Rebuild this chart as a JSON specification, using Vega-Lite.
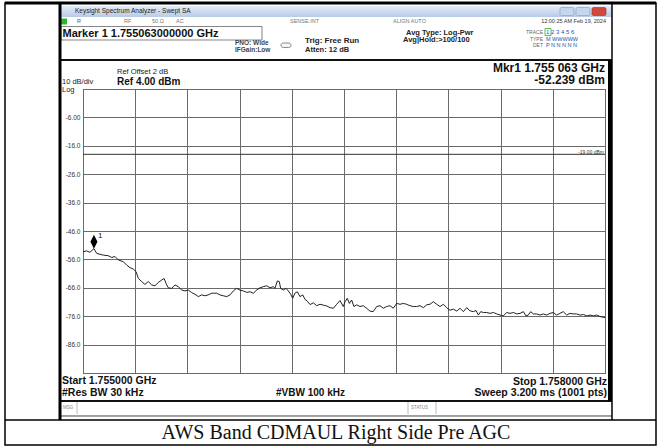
{
"$schema": "https://vega.github.io/schema/vega-lite/v6.json",
"width": 522, "height": 284,
"autosize": {"type": "none"},
"padding": {"left": 83, "top": 89, "right": 55, "bottom": 75},
"background": "white",
"config": {
  "view": {"stroke": "#222", "strokeWidth": 1},
  "font": "Liberation Sans",
  "axis": {"domain": false, "ticks": false, "gridColor": "#6a6a6a", "gridWidth": 1, "gridOpacity": 1, "labelColor": "#333", "labelFont": "Liberation Sans", "titleOpacity": 0, "labelOverlap": false, "labelFlush": false}
},
"datasets": {
  "one": [{"k": 1}],
  "trace": [
{"f":1755.000,"dbm":-53.3},{"f":1755.021,"dbm":-53.0},{"f":1755.040,"dbm":-53.5},{"f":1755.063,"dbm":-52.2},{"f":1755.079,"dbm":-53.9},{"f":1755.098,"dbm":-54.2},{"f":1755.117,"dbm":-54.5},{"f":1755.145,"dbm":-54.7},{"f":1755.165,"dbm":-55.3},{"f":1755.184,"dbm":-55.0},{"f":1755.203,"dbm":-56.2},{"f":1755.232,"dbm":-56.8},{"f":1755.251,"dbm":-58.0},{"f":1755.270,"dbm":-58.9},{"f":1755.289,"dbm":-59.4},{"f":1755.305,"dbm":-60.3},{"f":1755.318,"dbm":-62.7},{"f":1755.337,"dbm":-63.8},{"f":1755.356,"dbm":-64.8},{"f":1755.375,"dbm":-63.8},{"f":1755.395,"dbm":-65.0},{"f":1755.414,"dbm":-65.3},{"f":1755.433,"dbm":-64.1},{"f":1755.452,"dbm":-63.3},{"f":1755.466,"dbm":-62.7},{"f":1755.477,"dbm":-64.4},{"f":1755.490,"dbm":-66.0},{"f":1755.510,"dbm":-66.2},{"f":1755.529,"dbm":-65.0},{"f":1755.548,"dbm":-65.6},{"f":1755.567,"dbm":-66.8},{"f":1755.586,"dbm":-67.1},{"f":1755.605,"dbm":-66.8},{"f":1755.625,"dbm":-67.7},{"f":1755.644,"dbm":-68.3},{"f":1755.663,"dbm":-69.1},{"f":1755.682,"dbm":-68.5},{"f":1755.701,"dbm":-68.8},{"f":1755.720,"dbm":-68.5},{"f":1755.740,"dbm":-67.9},{"f":1755.749,"dbm":-67.9},{"f":1755.768,"dbm":-67.9},{"f":1755.787,"dbm":-68.5},{"f":1755.806,"dbm":-68.8},{"f":1755.826,"dbm":-69.1},{"f":1755.845,"dbm":-68.5},{"f":1755.864,"dbm":-67.1},{"f":1755.883,"dbm":-66.2},{"f":1755.902,"dbm":-66.8},{"f":1755.921,"dbm":-67.1},{"f":1755.941,"dbm":-67.6},{"f":1755.960,"dbm":-67.4},{"f":1755.979,"dbm":-67.9},{"f":1755.998,"dbm":-66.8},{"f":1756.017,"dbm":-66.0},{"f":1756.036,"dbm":-65.6},{"f":1756.056,"dbm":-65.3},{"f":1756.075,"dbm":-66.0},{"f":1756.094,"dbm":-65.6},{"f":1756.103,"dbm":-66.2},{"f":1756.117,"dbm":-63.6},{"f":1756.128,"dbm":-63.8},{"f":1756.136,"dbm":-66.2},{"f":1756.151,"dbm":-66.8},{"f":1756.167,"dbm":-66.2},{"f":1756.180,"dbm":-67.1},{"f":1756.194,"dbm":-68.3},{"f":1756.205,"dbm":-69.7},{"f":1756.218,"dbm":-67.9},{"f":1756.232,"dbm":-67.4},{"f":1756.247,"dbm":-69.1},{"f":1756.263,"dbm":-68.5},{"f":1756.276,"dbm":-70.1},{"f":1756.289,"dbm":-70.7},{"f":1756.305,"dbm":-71.9},{"f":1756.324,"dbm":-71.3},{"f":1756.343,"dbm":-72.3},{"f":1756.362,"dbm":-71.8},{"f":1756.381,"dbm":-72.1},{"f":1756.401,"dbm":-72.4},{"f":1756.420,"dbm":-73.0},{"f":1756.439,"dbm":-73.2},{"f":1756.458,"dbm":-71.8},{"f":1756.477,"dbm":-70.5},{"f":1756.496,"dbm":-72.6},{"f":1756.506,"dbm":-70.9},{"f":1756.519,"dbm":-69.7},{"f":1756.531,"dbm":-71.5},{"f":1756.544,"dbm":-70.3},{"f":1756.557,"dbm":-72.6},{"f":1756.573,"dbm":-72.0},{"f":1756.592,"dbm":-72.6},{"f":1756.611,"dbm":-72.3},{"f":1756.630,"dbm":-73.2},{"f":1756.649,"dbm":-74.2},{"f":1756.668,"dbm":-74.4},{"f":1756.688,"dbm":-72.6},{"f":1756.707,"dbm":-72.3},{"f":1756.726,"dbm":-73.2},{"f":1756.745,"dbm":-72.6},{"f":1756.764,"dbm":-72.3},{"f":1756.783,"dbm":-73.2},{"f":1756.803,"dbm":-71.5},{"f":1756.822,"dbm":-71.8},{"f":1756.841,"dbm":-71.5},{"f":1756.860,"dbm":-71.8},{"f":1756.879,"dbm":-72.3},{"f":1756.898,"dbm":-72.6},{"f":1756.917,"dbm":-72.6},{"f":1756.937,"dbm":-72.3},{"f":1756.956,"dbm":-73.0},{"f":1756.975,"dbm":-72.0},{"f":1756.994,"dbm":-71.8},{"f":1757.013,"dbm":-70.9},{"f":1757.033,"dbm":-71.8},{"f":1757.052,"dbm":-72.6},{"f":1757.071,"dbm":-71.8},{"f":1757.090,"dbm":-73.0},{"f":1757.109,"dbm":-73.9},{"f":1757.128,"dbm":-73.5},{"f":1757.148,"dbm":-74.2},{"f":1757.167,"dbm":-73.2},{"f":1757.186,"dbm":-74.4},{"f":1757.205,"dbm":-73.0},{"f":1757.224,"dbm":-74.1},{"f":1757.243,"dbm":-74.4},{"f":1757.259,"dbm":-74.0},{"f":1757.272,"dbm":-75.6},{"f":1757.286,"dbm":-74.4},{"f":1757.301,"dbm":-74.7},{"f":1757.320,"dbm":-74.7},{"f":1757.339,"dbm":-75.0},{"f":1757.359,"dbm":-74.7},{"f":1757.378,"dbm":-75.2},{"f":1757.397,"dbm":-75.6},{"f":1757.416,"dbm":-75.9},{"f":1757.435,"dbm":-74.7},{"f":1757.454,"dbm":-75.0},{"f":1757.474,"dbm":-74.7},{"f":1757.493,"dbm":-75.2},{"f":1757.512,"dbm":-75.0},{"f":1757.531,"dbm":-74.4},{"f":1757.546,"dbm":-75.9},{"f":1757.559,"dbm":-75.6},{"f":1757.573,"dbm":-74.4},{"f":1757.588,"dbm":-75.2},{"f":1757.607,"dbm":-75.2},{"f":1757.626,"dbm":-75.6},{"f":1757.645,"dbm":-75.2},{"f":1757.665,"dbm":-75.6},{"f":1757.684,"dbm":-75.0},{"f":1757.703,"dbm":-74.7},{"f":1757.722,"dbm":-75.6},{"f":1757.741,"dbm":-75.0},{"f":1757.760,"dbm":-74.4},{"f":1757.780,"dbm":-75.6},{"f":1757.799,"dbm":-75.0},{"f":1757.818,"dbm":-75.2},{"f":1757.837,"dbm":-75.2},{"f":1757.856,"dbm":-75.6},{"f":1757.876,"dbm":-75.4},{"f":1757.895,"dbm":-75.9},{"f":1757.914,"dbm":-75.6},{"f":1757.933,"dbm":-75.9},{"f":1757.952,"dbm":-75.6},{"f":1757.971,"dbm":-76.1},{"f":1757.990,"dbm":-76.4},{"f":1758.000,"dbm":-76.5}
  ]
},
"layer": [
  {"data": {"name": "one"}, "mark": {"type": "rect", "color": {"gradient": "linear", "x1": 0, "y1": 0, "x2": 0, "y2": 1, "stops": [{"offset": 0, "color": "#e3ecf8"}, {"offset": 1, "color": "#b7cbe6"}]}},
   "encoding": {"x": {"datum": 1754.8736, "type": "quantitative"}, "x2": {"datum": 1758.0402}, "y": {"datum": 33.23, "type": "quantitative"}, "y2": {"datum": 29.35}}},
  {"data": {"name": "one"}, "mark": {"type": "rect", "fill": "#c5d6ee", "stroke": "#7f9cc4", "strokeWidth": 0.6, "cornerRadius": 1.5},
   "encoding": {"x": {"datum": 1757.7414, "type": "quantitative"}, "x2": {"datum": 1757.8218}, "y": {"datum": 32.70, "type": "quantitative"}, "y2": {"datum": 29.88}}},
  {"data": {"name": "one"}, "mark": {"type": "rect", "fill": "#c5d6ee", "stroke": "#7f9cc4", "strokeWidth": 0.6, "cornerRadius": 1.5},
   "encoding": {"x": {"datum": 1757.8333, "type": "quantitative"}, "x2": {"datum": 1757.9138}, "y": {"datum": 32.70, "type": "quantitative"}, "y2": {"datum": 29.88}}},
  {"data": {"name": "one"}, "mark": {"type": "rect", "fill": "#d0483c", "stroke": "#9a2b22", "strokeWidth": 0.6, "cornerRadius": 1.5},
   "encoding": {"x": {"datum": 1757.9253, "type": "quantitative"}, "x2": {"datum": 1758.0057}, "y": {"datum": 32.70, "type": "quantitative"}, "y2": {"datum": 29.88}}},
  {"data": {"name": "one"}, "mark": {"type": "text", "align": "left", "baseline": "middle", "fontSize": 6.5, "color": "#222", "text": "Keysight Spectrum Analyzer - Swept SA"},
   "encoding": {"x": {"datum": 1754.954, "type": "quantitative"}, "y": {"datum": 31.46, "type": "quantitative"}}},
  {"data": {"name": "one"}, "mark": {"type": "rect", "fill": "#2db52d"},
   "encoding": {"x": {"datum": 1754.8736, "type": "quantitative"}, "x2": {"datum": 1754.908}, "y": {"datum": 28.82, "type": "quantitative"}, "y2": {"datum": 26.71}}},
  {"data": {"name": "one"}, "mark": {"type": "text", "align": "left", "baseline": "middle", "fontSize": 5.5, "color": "#555", "text": "R"},
   "encoding": {"x": {"datum": 1754.9655, "type": "quantitative"}, "y": {"datum": 27.77, "type": "quantitative"}}},
  {"data": {"name": "one"}, "mark": {"type": "text", "align": "left", "baseline": "middle", "fontSize": 5.5, "color": "#777", "text": "RF"},
   "encoding": {"x": {"datum": 1755.2356, "type": "quantitative"}, "y": {"datum": 27.77, "type": "quantitative"}}},
  {"data": {"name": "one"}, "mark": {"type": "text", "align": "left", "baseline": "middle", "fontSize": 5.5, "color": "#777", "text": "50 Ω"},
   "encoding": {"x": {"datum": 1755.3966, "type": "quantitative"}, "y": {"datum": 27.77, "type": "quantitative"}}},
  {"data": {"name": "one"}, "mark": {"type": "text", "align": "left", "baseline": "middle", "fontSize": 5.5, "color": "#777", "text": "AC"},
   "encoding": {"x": {"datum": 1755.5345, "type": "quantitative"}, "y": {"datum": 27.77, "type": "quantitative"}}},
  {"data": {"name": "one"}, "mark": {"type": "text", "align": "left", "baseline": "middle", "fontSize": 5.5, "color": "#777", "text": "SENSE:INT"},
   "encoding": {"x": {"datum": 1756.1897, "type": "quantitative"}, "y": {"datum": 27.77, "type": "quantitative"}}},
  {"data": {"name": "one"}, "mark": {"type": "text", "align": "left", "baseline": "middle", "fontSize": 5.5, "color": "#777", "text": "ALIGN AUTO"},
   "encoding": {"x": {"datum": 1756.7816, "type": "quantitative"}, "y": {"datum": 27.77, "type": "quantitative"}}},
  {"data": {"name": "one"}, "mark": {"type": "text", "align": "right", "baseline": "middle", "fontSize": 5.5, "color": "#333", "text": "12:00:25 AM Feb 19, 2024"},
   "encoding": {"x": {"datum": 1758.0057, "type": "quantitative"}, "y": {"datum": 27.77, "type": "quantitative"}}},
  {"data": {"name": "one"}, "mark": {"type": "rect", "fill": null, "stroke": "#666", "strokeWidth": 0.8},
   "encoding": {"x": {"datum": 1754.8736, "type": "quantitative"}, "x2": {"datum": 1756.0287}, "y": {"datum": 26.01, "type": "quantitative"}, "y2": {"datum": 21.25}}},
  {"data": {"name": "one"}, "mark": {"type": "text", "align": "left", "baseline": "middle", "fontSize": 11, "fontWeight": "bold", "color": "#111", "text": "Marker 1 1.755063000000 GHz"},
   "encoding": {"x": {"datum": 1754.8822, "type": "quantitative"}, "y": {"datum": 23.54, "type": "quantitative"}}},
  {"data": {"name": "one"}, "mark": {"type": "text", "align": "left", "baseline": "middle", "fontSize": 6.5, "fontWeight": "bold", "color": "#444", "text": "PNO: Wide"},
   "encoding": {"x": {"datum": 1755.8736, "type": "quantitative"}, "y": {"datum": 20.37, "type": "quantitative"}}},
  {"data": {"name": "one"}, "mark": {"type": "text", "align": "left", "baseline": "middle", "fontSize": 6.5, "fontWeight": "bold", "color": "#444", "text": "IFGain:Low"},
   "encoding": {"x": {"datum": 1755.8736, "type": "quantitative"}, "y": {"datum": 17.56, "type": "quantitative"}}},
  {"data": {"name": "one"}, "mark": {"type": "rect", "fill": "#f4f4f4", "stroke": "#555", "strokeWidth": 0.7, "cornerRadius": 2.5},
   "encoding": {"x": {"datum": 1756.1379, "type": "quantitative"}, "x2": {"datum": 1756.1954}, "y": {"datum": 20.2, "type": "quantitative"}, "y2": {"datum": 18.6}}},
  {"data": {"name": "one"}, "mark": {"type": "text", "align": "left", "baseline": "middle", "fontSize": 8, "fontWeight": "bold", "color": "#222", "text": "Trig: Free Run"},
   "encoding": {"x": {"datum": 1756.2759, "type": "quantitative"}, "y": {"datum": 20.73, "type": "quantitative"}}},
  {"data": {"name": "one"}, "mark": {"type": "text", "align": "left", "baseline": "middle", "fontSize": 7.5, "fontWeight": "bold", "color": "#222", "text": "Atten: 12 dB"},
   "encoding": {"x": {"datum": 1756.2759, "type": "quantitative"}, "y": {"datum": 17.73, "type": "quantitative"}}},
  {"data": {"name": "one"}, "mark": {"type": "text", "align": "left", "baseline": "middle", "fontSize": 7.5, "fontWeight": "bold", "color": "#222", "text": "Avg Type: Log-Pwr"},
   "encoding": {"x": {"datum": 1756.8563, "type": "quantitative"}, "y": {"datum": 23.89, "type": "quantitative"}}},
  {"data": {"name": "one"}, "mark": {"type": "text", "align": "left", "baseline": "middle", "fontSize": 7.5, "fontWeight": "bold", "color": "#222", "text": "Avg|Hold:>100/100"},
   "encoding": {"x": {"datum": 1756.8391, "type": "quantitative"}, "y": {"datum": 21.08, "type": "quantitative"}}},
  {"data": {"name": "one"}, "mark": {"type": "text", "align": "right", "baseline": "middle", "fontSize": 5, "color": "#666", "text": "TRACE"},
   "encoding": {"x": {"datum": 1757.6437, "type": "quantitative"}, "y": {"datum": 24.07, "type": "quantitative"}}},
  {"data": {"name": "one"}, "mark": {"type": "text", "align": "left", "baseline": "middle", "fontSize": 6, "color": "#2255aa", "text": "1 2 3 4 5 6"},
   "encoding": {"x": {"datum": 1757.6609, "type": "quantitative"}, "y": {"datum": 24.07, "type": "quantitative"}}},
  {"data": {"name": "one"}, "mark": {"type": "rect", "fill": null, "stroke": "#3a3", "strokeWidth": 0.8},
   "encoding": {"x": {"datum": 1757.6552, "type": "quantitative"}, "x2": {"datum": 1757.6897}, "y": {"datum": 25.30, "type": "quantitative"}, "y2": {"datum": 22.84}}},
  {"data": {"name": "one"}, "mark": {"type": "text", "align": "right", "baseline": "middle", "fontSize": 5, "color": "#666", "text": "TYPE"},
   "encoding": {"x": {"datum": 1757.6437, "type": "quantitative"}, "y": {"datum": 21.78, "type": "quantitative"}}},
  {"data": {"name": "one"}, "mark": {"type": "text", "align": "left", "baseline": "middle", "fontSize": 5.5, "color": "#2255aa", "text": "M WWWWW"},
   "encoding": {"x": {"datum": 1757.6609, "type": "quantitative"}, "y": {"datum": 21.78, "type": "quantitative"}}},
  {"data": {"name": "one"}, "mark": {"type": "text", "align": "right", "baseline": "middle", "fontSize": 5, "color": "#666", "text": "DET"},
   "encoding": {"x": {"datum": 1757.6437, "type": "quantitative"}, "y": {"datum": 19.32, "type": "quantitative"}}},
  {"data": {"name": "one"}, "mark": {"type": "text", "align": "left", "baseline": "middle", "fontSize": 5.5, "color": "#2255aa", "text": "P N N N N N"},
   "encoding": {"x": {"datum": 1757.6609, "type": "quantitative"}, "y": {"datum": 19.32, "type": "quantitative"}}},
  {"data": {"name": "one"}, "mark": {"type": "rule", "color": "#111", "strokeWidth": 2},
   "encoding": {"x": {"datum": 1754.8736, "type": "quantitative"}, "x2": {"datum": 1758.0402}, "y": {"datum": 14.21, "type": "quantitative"}}},
  {"data": {"name": "one"}, "mark": {"type": "text", "align": "right", "baseline": "middle", "fontSize": 12, "fontWeight": "bold", "color": "#111", "text": "Mkr1 1.755 063 GHz"},
   "encoding": {"x": {"datum": 1758.0, "type": "quantitative"}, "y": {"datum": 11.57, "type": "quantitative"}}},
  {"data": {"name": "one"}, "mark": {"type": "text", "align": "right", "baseline": "middle", "fontSize": 12, "fontWeight": "bold", "color": "#111", "text": "-52.239 dBm"},
   "encoding": {"x": {"datum": 1758.0, "type": "quantitative"}, "y": {"datum": 7.17, "type": "quantitative"}}},
  {"data": {"name": "one"}, "mark": {"type": "text", "align": "left", "baseline": "middle", "fontSize": 7.5, "color": "#222", "text": "Ref Offset 2 dB"},
   "encoding": {"x": {"datum": 1755.1954, "type": "quantitative"}, "y": {"datum": 9.99, "type": "quantitative"}}},
  {"data": {"name": "one"}, "mark": {"type": "text", "align": "left", "baseline": "middle", "fontSize": 10, "fontWeight": "bold", "color": "#111", "text": "Ref 4.00 dBm"},
   "encoding": {"x": {"datum": 1755.1954, "type": "quantitative"}, "y": {"datum": 6.46, "type": "quantitative"}}},
  {"data": {"name": "one"}, "mark": {"type": "text", "align": "left", "baseline": "middle", "fontSize": 7.5, "color": "#222", "text": "10 dB/div"},
   "encoding": {"x": {"datum": 1754.8793, "type": "quantitative"}, "y": {"datum": 6.46, "type": "quantitative"}}},
  {"data": {"name": "one"}, "mark": {"type": "text", "align": "left", "baseline": "middle", "fontSize": 7.5, "color": "#222", "text": "Log"},
   "encoding": {"x": {"datum": 1754.8793, "type": "quantitative"}, "y": {"datum": 3.82, "type": "quantitative"}}},
  {"data": {"name": "trace"}, "mark": {"type": "line", "color": "#222", "strokeWidth": 1, "interpolate": "linear"},
   "encoding": {
     "x": {"field": "f", "type": "quantitative", "scale": {"domain": [1755, 1758], "nice": false, "zero": false},
           "axis": {"values": [1755, 1755.3, 1755.6, 1755.9, 1756.2, 1756.5, 1756.8, 1757.1, 1757.4, 1757.7, 1758], "tickCount": 20, "labels": false, "grid": true, "title": ""}},
     "y": {"field": "dbm", "type": "quantitative", "scale": {"domain": [-96, 4], "nice": false, "zero": false},
           "axis": {"values": [4, -6, -16, -26, -36, -46, -56, -66, -76, -86, -96], "tickCount": 20, "grid": true, "title": "", "labelFontSize": 6.5, "labelPadding": 3, "labelBaseline": "middle", "labelOverlap": false,
                    "labelExpr": "datum.value == 4 || datum.value == -96 ? '' : (datum.value == -6 ? '-6.00' : datum.value + '.0')"}}
   }},
  {"data": {"name": "one"}, "mark": {"type": "rule", "color": "#333", "strokeWidth": 1},
   "encoding": {"x": {"datum": 1755.0, "type": "quantitative"}, "x2": {"datum": 1758.0}, "y": {"datum": -19, "type": "quantitative"}}},
  {"data": {"name": "one"}, "mark": {"type": "text", "align": "right", "baseline": "middle", "fontSize": 5, "color": "#333", "text": "-19.00 dBm"},
   "encoding": {"x": {"datum": 1757.9943, "type": "quantitative"}, "y": {"datum": -18.01, "type": "quantitative"}}},
  {"data": {"name": "one"}, "mark": {"type": "point", "shape": "M0,-2L0.5,-1L0,0L-0.5,-1Z", "size": 196, "filled": true, "color": "#000", "opacity": 1},
   "encoding": {"x": {"datum": 1755.063, "type": "quantitative"}, "y": {"datum": -52.239, "type": "quantitative"}}},
  {"data": {"name": "one"}, "mark": {"type": "text", "align": "left", "baseline": "middle", "fontSize": 8, "color": "#111", "text": "1"},
   "encoding": {"x": {"datum": 1755.0862, "type": "quantitative"}, "y": {"datum": -47.76, "type": "quantitative"}}},
  {"data": {"name": "one"}, "mark": {"type": "text", "align": "left", "baseline": "middle", "fontSize": 10.5, "fontWeight": "bold", "color": "#111", "text": "Start 1.755000 GHz"},
   "encoding": {"x": {"datum": 1754.8793, "type": "quantitative"}, "y": {"datum": -98.82, "type": "quantitative"}}},
  {"data": {"name": "one"}, "mark": {"type": "text", "align": "left", "baseline": "middle", "fontSize": 10.5, "fontWeight": "bold", "color": "#111", "text": "#Res BW 30 kHz"},
   "encoding": {"x": {"datum": 1754.8793, "type": "quantitative"}, "y": {"datum": -103.04, "type": "quantitative"}}},
  {"data": {"name": "one"}, "mark": {"type": "text", "align": "left", "baseline": "middle", "fontSize": 10, "fontWeight": "bold", "color": "#111", "text": "#VBW 100 kHz"},
   "encoding": {"x": {"datum": 1756.1092, "type": "quantitative"}, "y": {"datum": -103.04, "type": "quantitative"}}},
  {"data": {"name": "one"}, "mark": {"type": "text", "align": "right", "baseline": "middle", "fontSize": 10.5, "fontWeight": "bold", "color": "#111", "text": "Stop 1.758000 GHz"},
   "encoding": {"x": {"datum": 1758.0115, "type": "quantitative"}, "y": {"datum": -99.17, "type": "quantitative"}}},
  {"data": {"name": "one"}, "mark": {"type": "text", "align": "right", "baseline": "middle", "fontSize": 10.5, "fontWeight": "bold", "color": "#111", "text": "Sweep  3.200 ms (1001 pts)"},
   "encoding": {"x": {"datum": 1758.0115, "type": "quantitative"}, "y": {"datum": -103.04, "type": "quantitative"}}},
  {"data": {"name": "one"}, "mark": {"type": "rule", "color": "#111", "strokeWidth": 2},
   "encoding": {"x": {"datum": 1754.8736, "type": "quantitative"}, "x2": {"datum": 1758.0402}, "y": {"datum": -105.86, "type": "quantitative"}}},
  {"data": {"name": "one"}, "mark": {"type": "text", "align": "left", "baseline": "middle", "fontSize": 4.5, "color": "#888", "text": "MSG"},
   "encoding": {"x": {"datum": 1754.8851, "type": "quantitative"}, "y": {"datum": -108.32, "type": "quantitative"}}},
  {"data": {"name": "one"}, "mark": {"type": "text", "align": "left", "baseline": "middle", "fontSize": 4.5, "color": "#888", "text": "STATUS"},
   "encoding": {"x": {"datum": 1756.8851, "type": "quantitative"}, "y": {"datum": -108.32, "type": "quantitative"}}},
  {"data": {"name": "one"}, "mark": {"type": "rule", "color": "#bbb", "strokeWidth": 1},
   "encoding": {"x": {"datum": 1754.9655, "type": "quantitative"}, "y": {"datum": -106.21, "type": "quantitative"}, "y2": {"datum": -110.43}}},
  {"data": {"name": "one"}, "mark": {"type": "rule", "color": "#bbb", "strokeWidth": 1},
   "encoding": {"x": {"datum": 1756.8678, "type": "quantitative"}, "y": {"datum": -106.21, "type": "quantitative"}, "y2": {"datum": -110.43}}},
  {"data": {"name": "one"}, "mark": {"type": "rule", "color": "#bbb", "strokeWidth": 1},
   "encoding": {"x": {"datum": 1757.0287, "type": "quantitative"}, "y": {"datum": -106.21, "type": "quantitative"}, "y2": {"datum": -110.43}}},
  {"data": {"name": "one"}, "mark": {"type": "rule", "color": "#444", "strokeWidth": 1},
   "encoding": {"x": {"datum": 1754.8736, "type": "quantitative"}, "x2": {"datum": 1758.0402}, "y": {"datum": -111.14, "type": "quantitative"}}},
  {"data": {"name": "one"}, "mark": {"type": "rule", "color": "#000", "strokeWidth": 3},
   "encoding": {"x": {"datum": 1754.8678, "type": "quantitative"}, "y": {"datum": 34.28, "type": "quantitative"}, "y2": {"datum": -112.55}}},
  {"data": {"name": "one"}, "mark": {"type": "rule", "color": "#000", "strokeWidth": 4},
   "encoding": {"x": {"datum": 1758.0287, "type": "quantitative"}, "y": {"datum": 14.21, "type": "quantitative"}, "y2": {"datum": -105.86}}},
  {"data": {"name": "one"}, "mark": {"type": "rule", "color": "#000", "strokeWidth": 1.5},
   "encoding": {"x": {"datum": 1758.0402, "type": "quantitative"}, "y": {"datum": 34.28, "type": "quantitative"}, "y2": {"datum": -112.55}}},
  {"data": {"name": "one"}, "mark": {"type": "rect", "fill": null, "stroke": "#000", "strokeWidth": 1.5},
   "encoding": {"x": {"datum": 1754.5517, "type": "quantitative"}, "x2": {"datum": 1758.2931}, "y": {"datum": 34.28, "type": "quantitative"}, "y2": {"datum": -121.35}}},
  {"data": {"name": "one"}, "mark": {"type": "rule", "color": "#000", "strokeWidth": 3},
   "encoding": {"x": {"datum": 1754.5517, "type": "quantitative"}, "x2": {"datum": 1758.2931}, "y": {"datum": 34.28, "type": "quantitative"}}},
  {"data": {"name": "one"}, "mark": {"type": "rule", "color": "#000", "strokeWidth": 1.5},
   "encoding": {"x": {"datum": 1754.5517, "type": "quantitative"}, "x2": {"datum": 1758.2931}, "y": {"datum": -112.55, "type": "quantitative"}}},
  {"data": {"name": "one"}, "mark": {"type": "text", "align": "center", "baseline": "middle", "fontSize": 20, "font": "Liberation Serif", "color": "#111", "text": "AWS Band CDMAUL Right Side Pre AGC"},
   "encoding": {"x": {"datum": 1756.454, "type": "quantitative"}, "y": {"datum": -117.13, "type": "quantitative"}}}
]
}
